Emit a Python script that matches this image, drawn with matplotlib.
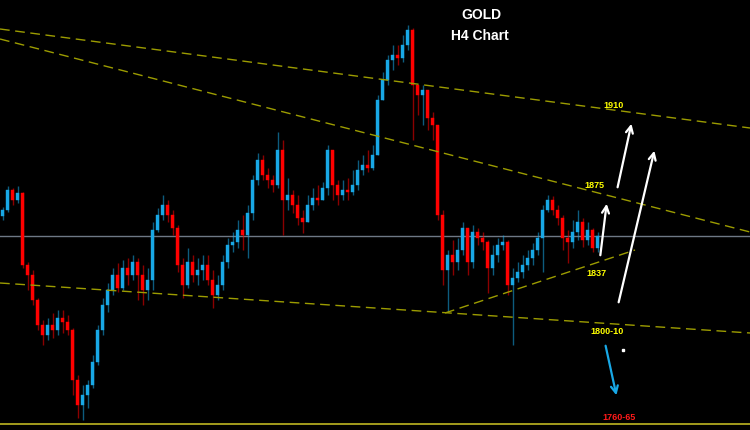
import matplotlib
matplotlib.use("Agg")
import matplotlib.pyplot as plt
import numpy as np

# ---- data (H4 candles, price units) ----
closes = [1845, 1855, 1850, 1853.5, 1817.5, 1812.5, 1800, 1787.5, 1782.5, 1787.5,
          1785, 1791, 1789, 1785, 1760, 1747.5, 1752.5, 1757.5, 1769, 1785,
          1797.5, 1805, 1812.5, 1806, 1816, 1812.5, 1819, 1812.5, 1805, 1810,
          1835, 1842.5, 1847.5, 1842.5, 1836, 1817.5, 1807.5, 1819, 1812.5, 1815,
          1817.5, 1810, 1802.5, 1807.5, 1819, 1827.5, 1829, 1835, 1832.5, 1843.5,
          1860, 1870, 1862.5, 1860, 1857.5, 1875, 1850, 1852.5, 1847.5, 1841,
          1839, 1847.5, 1851, 1850, 1856, 1875, 1857.5, 1852.5, 1855, 1854,
          1857.5, 1865, 1867.5, 1866, 1872.5, 1900, 1910, 1920, 1922.5, 1921,
          1927.5, 1935, 1907.5, 1902.5, 1905, 1891, 1887.5, 1842.5, 1815, 1822.5,
          1819, 1825, 1836, 1819, 1834, 1831, 1829, 1816, 1822.5, 1827.5,
          1829, 1807.5, 1811, 1814, 1817.5, 1821, 1825, 1831, 1845, 1850,
          1845, 1841, 1831, 1829, 1834, 1839, 1830, 1835, 1826, 1832]
highs = [1846.5, 1857, 1856, 1857, 1854, 1819, 1815, 1801, 1790, 1791,
         1793.5, 1795, 1795, 1792.5, 1786, 1762.5, 1757.5, 1760, 1772.5, 1787.5,
         1801, 1808.5, 1816, 1818.5, 1820, 1821, 1822.5, 1821, 1817.5, 1816,
         1839, 1846, 1852.5, 1850, 1845, 1837.5, 1821, 1826, 1822.5, 1821,
         1822.5, 1822.5, 1815, 1812.5, 1822.5, 1831, 1834, 1840, 1842.5, 1847.5,
         1862.5, 1873.5, 1872.5, 1866, 1862.5, 1884, 1880, 1861, 1855, 1852.5,
         1845, 1852.5, 1856, 1857.5, 1859, 1877.5, 1875, 1860, 1860, 1861,
         1865, 1870, 1872.5, 1875, 1877.5, 1902.5, 1914, 1922.5, 1927.5, 1927.5,
         1932.5, 1937.5, 1936, 1907.5, 1907.5, 1900, 1894, 1887.5, 1845, 1825,
         1830, 1831, 1839, 1836, 1837.5, 1836, 1834, 1830, 1827.5, 1831,
         1832.5, 1830, 1816, 1819, 1822.5, 1825, 1828.5, 1834, 1847.5, 1852.5,
         1852, 1847.5, 1842.5, 1835, 1840, 1845, 1841, 1839, 1836, 1834]
lows = [1840, 1844, 1847.5, 1848.5, 1816, 1805, 1797.5, 1785, 1777.5, 1780,
        1781, 1782.5, 1783.5, 1782.5, 1752.5, 1741, 1740, 1746, 1756, 1767.5,
        1782.5, 1794, 1802.5, 1804, 1805, 1807.5, 1810, 1800, 1797.5, 1800,
        1805, 1834, 1840, 1839, 1832.5, 1814, 1801, 1806, 1809, 1807.5,
        1810, 1807.5, 1796, 1800, 1805, 1816, 1824, 1826, 1825, 1821,
        1840, 1857.5, 1860, 1856, 1854, 1856, 1832.5, 1845, 1843.5, 1837.5,
        1833.5, 1842.5, 1845, 1847.5, 1850, 1852.5, 1850, 1847.5, 1850, 1850,
        1852.5, 1855, 1862.5, 1864, 1865, 1877.5, 1900, 1907.5, 1915, 1917.5,
        1919, 1925, 1880, 1892.5, 1887.5, 1885, 1880, 1840, 1807.5, 1794,
        1812.5, 1815, 1822.5, 1812.5, 1816, 1827.5, 1825, 1803.5, 1812.5, 1819,
        1825, 1802.5, 1777.5, 1809, 1811, 1815, 1817.5, 1822.5, 1814, 1844,
        1842.5, 1837.5, 1825, 1818.5, 1826, 1830, 1826.5, 1827.5, 1824, 1824]
first_open = 1842

current_price = 1832
floor_level = 1738

# trendlines: (x0, p0, x1, p1) in candle-index / price units
trendlines = [(-0.5, 1935.5, 149.5, 1886),
              (-0.5, 1930.5, 149.5, 1834),
              (-0.5, 1808.5, 149.5, 1783.5),
              (88.5, 1793.5, 126.5, 1825)]

level_labels = ["1910", "1875", "1837", "1800-10", "1760-65"]
level_pos = [(122.3, 1897), (118.3, 1857.5), (118.7, 1813), (120.9, 1784.5), (123.3, 1741.5)]
level_colors = ["#ffff00", "#ffff00", "#ffff00", "#ffff00", "#ff1a1a"]

up_arrows = [((119.5, 1821), (120.9, 1849.5)),
             ((122.9, 1855), (125.9, 1889.5)),
             ((123.1, 1797.5), (130.5, 1876))]
down_arrow = ((120.5, 1778.5), (122.9, 1751))

BULL = "#18a8e6"
BEAR = "#ff0000"
DASH = "#9c9c00"

fig = plt.figure(figsize=(7.5, 4.3), dpi=100, facecolor="black")
ax = fig.add_axes([0, 0, 1, 1])
ax.set_facecolor("black")
ax.set_xlim(-0.5, 149.5)
ax.set_ylim(1735, 1950)
ax.axis("off")

# horizontal lines
ax.axhline(current_price, color="#6e7885", lw=1.0, zorder=1)
ax.axhline(floor_level, color="#b0a820", lw=1.3, zorder=1)

# candles
opens = [first_open] + closes[:-1]
idx = np.arange(len(closes))
for i, o, c, h, l in zip(idx, opens, closes, highs, lows):
    col = BULL if c >= o else BEAR
    hi = max(h, o, c)
    lo = min(l, o, c)
    ax.vlines(i, lo, hi, color=col, lw=1.0, alpha=0.55, zorder=2)
    body = max(abs(c - o), 0.6)
    ax.bar(i, body, bottom=min(o, c), width=0.6, color=col, edgecolor=col,
           linewidth=0.3, zorder=3)

# trendlines
for x0, p0, x1, p1 in trendlines:
    ax.plot([x0, x1], [p0, p1], color=DASH, lw=1.0, ls=(0, (7, 4)), zorder=4)

# level labels
for lab, (x, y), col in zip(level_labels, level_pos, level_colors):
    ax.text(x, y, lab, color=col, fontsize=6.5, fontweight="bold",
            family="Liberation Sans", ha="center", va="center", zorder=6)

# arrows
for (x0, y0), (x1, y1) in up_arrows:
    ax.annotate("", xy=(x1, y1), xytext=(x0, y0),
                arrowprops=dict(arrowstyle="->,head_length=0.5,head_width=0.25",
                                color="white", lw=1.6), zorder=6)
ax.annotate("", xy=down_arrow[1], xytext=down_arrow[0],
            arrowprops=dict(arrowstyle="->,head_length=0.5,head_width=0.25",
                            color=BULL, lw=1.6), zorder=6)
ax.plot([124.1], [1775], marker="s", ms=1.5, color="white", zorder=6)

# title
ax.text(95.7, 1942.5, "GOLD", color="white", fontsize=10, fontweight="bold",
        family="Liberation Sans", ha="center", va="center")
ax.text(95.5, 1932, "H4 Chart", color="white", fontsize=10, fontweight="bold",
        family="Liberation Sans", ha="center", va="center")

fig.savefig("out.png", dpi=100, facecolor="black")
